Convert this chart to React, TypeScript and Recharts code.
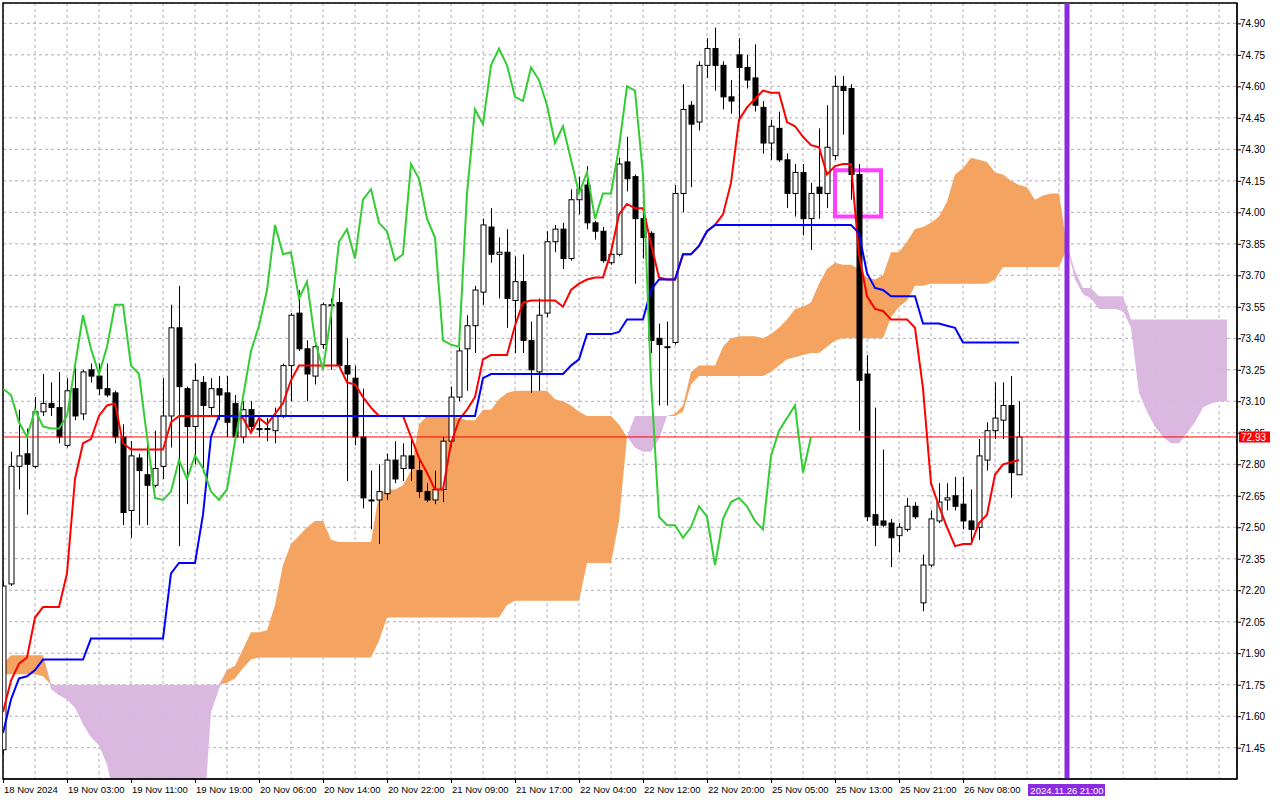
import React from 'react';
import {
  ComposedChart,
  XAxis,
  YAxis,
  CartesianGrid,
  Area,
  Line,
  Bar,
  ReferenceLine,
  ReferenceArea,
} from 'recharts';

// H1 candles, bar index 0..127
const opens = [
  71.44, 72.23, 72.79, 72.85, 72.79, 73.05, 73.09, 73.07, 72.89, 73.16,
  73.04, 73.25, 73.22, 73.16, 73.14, 72.93, 72.58, 72.83, 72.75, 72.70,
  72.79, 73.03, 73.45, 73.16, 72.98, 73.19, 73.07, 73.16, 73.14, 73.09,
  72.93, 73.06, 72.97, 72.97, 72.96, 73.03, 73.27, 73.52, 73.35, 73.22,
  73.37, 73.56, 73.57, 73.27, 73.21, 72.93, 72.63, 72.63, 72.66, 72.82,
  72.78, 72.84, 72.77, 72.67, 72.63, 72.68, 72.91, 73.12, 73.35, 73.46,
  73.62, 73.93, 73.80, 73.81, 73.58, 73.67, 73.39, 73.24, 73.52, 73.86,
  73.92, 73.78, 74.06, 74.13, 73.95, 73.91, 73.76, 73.80, 74.24, 74.17,
  73.97, 73.90, 73.40, 73.36, 73.38, 74.09, 74.51, 74.43, 74.70, 74.78,
  74.70, 74.55, 74.75, 74.69, 74.64, 74.50, 74.33, 74.40, 74.25, 74.09,
  74.19, 73.97, 74.12, 74.09, 74.27, 74.60, 74.59, 74.18, 73.23, 72.56,
  72.53, 72.52, 72.46, 72.49, 72.60, 72.14, 72.32, 72.53, 72.63, 72.65,
  72.61, 72.53, 72.50, 72.82, 72.96, 73.01, 73.08, 72.75,
];
const highs = [
  72.24, 72.86, 73.06, 72.97, 73.12, 73.23, 73.19, 73.24, 73.21, 73.26,
  73.25, 73.28, 73.28, 73.28, 73.15, 72.99, 72.91, 72.85, 72.90, 72.96,
  73.21, 73.56, 73.65, 73.17, 73.28, 73.22, 73.21, 73.22, 73.22, 73.13,
  73.10, 73.10, 73.02, 73.02, 73.07, 73.28, 73.52, 73.63, 73.39, 73.37,
  73.57, 73.59, 73.64, 73.40, 73.27, 73.16, 72.77, 72.80, 72.85, 72.91,
  72.90, 72.92, 72.82, 72.71, 72.77, 72.93, 73.17, 73.37, 73.51, 73.65,
  73.97, 74.02, 73.88, 73.92, 73.79, 73.80, 73.48, 73.59, 73.91, 73.94,
  73.95, 74.11, 74.17, 74.22, 73.96, 73.93, 73.84, 74.26, 74.36, 74.18,
  74.02, 73.91, 73.47, 73.48, 74.13, 74.61, 74.53, 74.72, 74.83, 74.88,
  74.72, 74.63, 74.83, 74.75, 74.80, 74.53, 74.44, 74.48, 74.28, 74.23,
  74.23, 74.14, 74.40, 74.51, 74.65, 74.65, 74.61, 74.23, 73.32, 73.07,
  72.87, 72.54, 72.52, 72.64, 72.62, 72.37, 72.58, 72.71, 72.71, 72.74,
  72.74, 72.68, 72.92, 73.00, 73.19, 73.19, 73.22, 73.10,
];
const lows = [
  71.42, 72.22, 72.68, 72.56, 72.78, 73.03, 73.03, 72.90, 72.88, 73.01,
  73.01, 73.19, 73.13, 73.12, 72.90, 72.51, 72.45, 72.51, 72.51, 72.69,
  72.73, 72.88, 72.41, 72.61, 72.80, 72.76, 73.03, 73.01, 72.93, 72.92,
  72.90, 72.95, 72.93, 72.91, 72.90, 73.02, 73.10, 73.34, 73.10, 73.18,
  73.35, 73.25, 73.26, 72.72, 72.89, 72.59, 72.49, 72.42, 72.63, 72.71,
  72.72, 72.72, 72.64, 72.62, 72.61, 72.62, 72.88, 73.10, 73.15, 73.33,
  73.56, 73.76, 73.59, 73.45, 73.33, 73.33, 73.14, 73.15, 73.50, 73.81,
  73.73, 73.77, 73.99, 73.92, 73.87, 73.76, 73.75, 73.79, 74.10, 73.66,
  73.78, 73.33, 73.08, 73.08, 73.37, 74.00, 74.12, 74.39, 74.64, 74.58,
  74.49, 74.47, 74.43, 74.59, 74.48, 74.28, 74.25, 74.24, 74.02, 73.98,
  73.89, 73.82, 73.97, 74.02, 74.25, 74.37, 74.06, 72.96, 72.53, 72.41,
  72.50, 72.31, 72.38, 72.48, 72.54, 72.10, 72.31, 72.52, 72.58, 72.58,
  72.49, 72.43, 72.44, 72.77, 72.92, 72.92, 72.64, 72.75,
];
const closes = [
  72.22, 72.79, 72.84, 72.80, 73.05, 73.09, 73.07, 72.93, 73.15, 73.03,
  73.24, 73.22, 73.16, 73.13, 72.93, 72.57, 72.84, 72.77, 72.70, 72.78,
  73.03, 73.45, 73.17, 72.98, 73.20, 73.08, 73.16, 73.13, 73.00, 72.93,
  73.06, 72.98, 72.97, 72.97, 73.03, 73.27, 73.51, 73.35, 73.23, 73.36,
  73.56, 73.56, 73.27, 73.23, 72.93, 72.64, 72.63, 72.67, 72.82, 72.73,
  72.84, 72.78, 72.67, 72.63, 72.68, 72.91, 73.12, 73.34, 73.46, 73.63,
  73.94, 73.80, 73.81, 73.59, 73.67, 73.39, 73.25, 73.51, 73.86, 73.92,
  73.78, 74.06, 74.11, 73.95, 73.91, 73.77, 73.80, 74.23, 74.16, 73.97,
  73.88, 73.39, 73.37, 73.36, 74.09, 74.49, 74.42, 74.70, 74.78, 74.70,
  74.55, 74.53, 74.69, 74.63, 74.51, 74.33, 74.41, 74.25, 74.09, 74.19,
  73.97, 74.09, 74.09, 74.31, 74.60, 74.58, 74.18, 73.20, 72.55, 72.51,
  72.51, 72.45, 72.50, 72.60, 72.55, 72.32, 72.54, 72.62, 72.64, 72.60,
  72.53, 72.49, 72.84, 72.96, 73.02, 73.08, 72.76, 72.93,
];

// Ichimoku lines
const tenkan = [
  71.62, 71.77, 71.85, 71.88, 72.07, 72.12, 72.12, 72.12, 72.28, 72.73,
  72.90, 72.92, 73.03, 73.08, 73.09, 72.90, 72.87, 72.87, 72.87, 72.87,
  72.87, 73.00, 73.03, 73.03, 73.03, 73.03, 73.03, 73.03, 73.03, 73.03,
  73.02, 72.95, 73.02, 72.99, 73.04, 73.09, 73.20, 73.27, 73.27, 73.27,
  73.27, 73.27, 73.27, 73.19, 73.18, 73.12, 73.07, 73.03, 73.03, 73.03,
  73.03, 72.93, 72.83, 72.76, 72.68, 72.68, 72.90, 73.01, 73.06, 73.12,
  73.30, 73.32, 73.32, 73.32, 73.46, 73.57, 73.58, 73.58, 73.58, 73.58,
  73.55, 73.63, 73.66, 73.68, 73.69, 73.69, 73.81, 73.99, 74.04, 74.02,
  74.02, 73.85, 73.69, 73.68, 73.68, 73.80, 73.80, 73.84, 73.91, 73.94,
  73.99, 74.14, 74.44, 74.50, 74.54, 74.58, 74.57, 74.57, 74.43, 74.41,
  74.36, 74.32, 74.31, 74.18, 74.22, 74.23, 74.23, 73.80, 73.60, 73.54,
  73.53, 73.49, 73.49, 73.49, 73.45, 73.16, 72.71, 72.60, 72.50, 72.41,
  72.42, 72.42, 72.52, 72.56, 72.75, 72.80, 72.81, 72.82,
];
const kijun = [
  71.52, 71.68, 71.78, 71.79, 71.82, 71.87, 71.87, 71.87, 71.87, 71.87,
  71.87, 71.97, 71.97, 71.97, 71.97, 71.97, 71.97, 71.97, 71.97, 71.97,
  71.97, 72.28, 72.33, 72.33, 72.33, 72.56, 72.93, 73.03, 73.03, 73.03,
  73.03, 73.03, 73.03, 73.03, 73.03, 73.03, 73.03, 73.03, 73.03, 73.03,
  73.03, 73.03, 73.03, 73.03, 73.03, 73.03, 73.03, 73.03, 73.03, 73.03,
  73.03, 73.03, 73.03, 73.03, 73.03, 73.03, 73.03, 73.03, 73.03, 73.03,
  73.21, 73.23, 73.23, 73.23, 73.23, 73.23, 73.23, 73.23, 73.23, 73.23,
  73.23, 73.27, 73.30, 73.42, 73.42, 73.42, 73.42, 73.43, 73.49, 73.49,
  73.49, 73.63, 73.68, 73.68, 73.68, 73.80, 73.80, 73.84, 73.91, 73.94,
  73.94, 73.94, 73.94, 73.94, 73.94, 73.94, 73.94, 73.94, 73.94, 73.94,
  73.94, 73.94, 73.94, 73.94, 73.94, 73.94, 73.94, 73.90, 73.71, 73.64,
  73.63, 73.60, 73.60, 73.60, 73.60, 73.47, 73.47, 73.47, 73.46, 73.45,
  73.38, 73.38, 73.38, 73.38, 73.38, 73.38, 73.38, 73.38,
];
// cloud spans, bar index 0..153 (26 bars past the last candle)
const spanA = [
  71.85, 71.89, 71.89, 71.89, 71.89, 71.89, 71.73, 71.70, 71.68, 71.64,
  71.56, 71.50, 71.46, 71.37, 71.20, 71.20, 71.20, 71.20, 71.20, 71.20,
  71.20, 71.20, 71.20, 71.20, 71.20, 71.06, 71.62, 71.73, 71.82, 71.84,
  71.92, 72.00, 72.00, 72.01, 72.13, 72.32, 72.42, 72.46, 72.50, 72.53,
  72.53, 72.44, 72.43, 72.43, 72.43, 72.43, 72.43, 72.66, 72.68, 72.68,
  72.70, 72.77, 72.99, 73.03, 73.03, 73.03, 73.03, 73.02, 73.01, 73.01,
  73.06, 73.06, 73.11, 73.14, 73.15, 73.15, 73.15, 73.15, 73.15, 73.11,
  73.10, 73.08, 73.05, 73.03, 73.03, 73.03, 73.03, 72.99, 72.93, 72.88,
  72.86, 72.86, 72.92, 73.03, 73.04, 73.08, 73.24, 73.27, 73.27, 73.27,
  73.36, 73.40, 73.41, 73.41, 73.41, 73.40, 73.42, 73.45, 73.49, 73.54,
  73.55, 73.57, 73.66, 73.73, 73.76, 73.75, 73.75, 73.73, 73.69, 73.68,
  73.70, 73.81, 73.81, 73.86, 73.92, 73.93, 73.95, 73.98, 74.05, 74.18,
  74.21, 74.26, 74.25, 74.24, 74.19, 74.18, 74.15, 74.13, 74.12, 74.06,
  74.08, 74.09, 74.09, 73.84, 73.68, 73.61, 73.59, 73.54, 73.54, 73.54,
  73.53, 73.45, 73.14, 73.05, 72.98, 72.93, 72.90, 72.90, 72.95, 73.00,
  73.07, 73.09, 73.10, 73.10,
];
const spanB = [
  71.80, 71.80, 71.80, 71.80, 71.80, 71.79, 71.75, 71.75, 71.75, 71.75,
  71.75, 71.75, 71.75, 71.75, 71.75, 71.75, 71.75, 71.75, 71.75, 71.75,
  71.75, 71.75, 71.75, 71.75, 71.75, 71.75, 71.75, 71.75, 71.76, 71.78,
  71.83, 71.87, 71.88, 71.88, 71.88, 71.88, 71.88, 71.88, 71.88, 71.88,
  71.88, 71.88, 71.88, 71.88, 71.88, 71.88, 71.88, 71.96, 72.07, 72.07,
  72.07, 72.07, 72.07, 72.07, 72.07, 72.07, 72.07, 72.07, 72.07, 72.07,
  72.07, 72.07, 72.07, 72.13, 72.15, 72.15, 72.15, 72.15, 72.15, 72.15,
  72.15, 72.15, 72.15, 72.33, 72.33, 72.33, 72.33, 72.53, 72.93, 73.03,
  73.03, 73.03, 73.03, 73.03, 73.03, 73.05, 73.18, 73.22, 73.22, 73.22,
  73.22, 73.22, 73.22, 73.22, 73.22, 73.22, 73.24, 73.27, 73.30, 73.31,
  73.32, 73.33, 73.33, 73.36, 73.39, 73.40, 73.40, 73.40, 73.40, 73.40,
  73.40, 73.50, 73.55, 73.58, 73.65, 73.65, 73.66, 73.66, 73.66, 73.66,
  73.66, 73.66, 73.66, 73.66, 73.68, 73.74, 73.74, 73.74, 73.74, 73.74,
  73.74, 73.74, 73.74, 73.83, 73.72, 73.64, 73.64, 73.60, 73.60, 73.60,
  73.60, 73.49, 73.49, 73.49, 73.49, 73.49, 73.49, 73.49, 73.49, 73.49,
  73.49, 73.49, 73.49, 73.49,
];

const timeTickIdx = [0, 8, 16, 24, 32, 40, 48, 56, 64, 72, 80, 88, 96, 104, 112, 120];
const timeTickLabels = [
  '18 Nov 2024', '19 Nov 03:00', '19 Nov 11:00', '19 Nov 19:00', '20 Nov 06:00',
  '20 Nov 14:00', '20 Nov 22:00', '21 Nov 09:00', '21 Nov 17:00', '22 Nov 04:00',
  '22 Nov 12:00', '22 Nov 20:00', '25 Nov 05:00', '25 Nov 13:00', '25 Nov 21:00',
  '26 Nov 08:00',
];
const gridIdx = [
  0, 4, 8, 12, 16, 20, 24, 28, 32, 36, 40, 44, 48, 52, 56, 60, 64, 68, 72, 76,
  80, 84, 88, 92, 96, 100, 104, 108, 112, 116, 120, 124, 128, 132, 136, 140, 144, 148, 152,
];
const priceTicks = [
  71.45, 71.6, 71.75, 71.9, 72.05, 72.2, 72.35, 72.5, 72.65, 72.8, 72.95, 73.1,
  73.25, 73.4, 73.55, 73.7, 73.85, 74.0, 74.15, 74.3, 74.45, 74.6, 74.75, 74.9,
];

const bidPrice = 72.93;
const cursorIdx = 133;
const cursorText = '2024.11.26 21:00';
const boxIdx = [104, 109.75];
const boxPrice = [73.98, 74.2];
const CHIKOU_SHIFT = 26;

const X_DOMAIN = [0, 154.25];
const Y_DOMAIN = [71.301, 74.997];
const CHART_W = 1280;
const CHART_H = 800;
const MARGIN = { top: 3, right: 0, bottom: 0, left: 3 };
const X_AXIS_H = 21;
const PLOT_H = CHART_H - MARGIN.top - X_AXIS_H;
const PX_PER_PRICE = PLOT_H / (Y_DOMAIN[1] - Y_DOMAIN[0]);
const BID_BOX_H = 11;

const FONT = "'Liberation Sans', Arial, sans-serif";

const rows = spanA.map((a, i) => {
  const b = spanB[i];
  const top = Math.max(a, b);
  return {
    i,
    o: opens[i],
    h: highs[i],
    l: lows[i],
    c: closes[i],
    tenkan: tenkan[i],
    kijun: kijun[i],
    chikou: closes[i + CHIKOU_SHIFT],
    kumoUp: [b, top],
    kumoDown: [a, top],
  };
});

function Candle(props: any) {
  const { x, y, width, height, payload } = props;
  if (payload == null || payload.h == null || !height) return <g />;
  const cx = Math.round(x + width / 2) + 0.5;
  const k = height / (payload.h - payload.l);
  const py = (v: number) => y + (payload.h - v) * k;
  const top = py(Math.max(payload.o, payload.c));
  const bot = py(Math.min(payload.o, payload.c));
  const up = payload.c >= payload.o;
  return (
    <g>
      <line x1={cx} x2={cx} y1={y} y2={y + height} stroke="#000" strokeWidth={1} />
      <rect
        x={cx - 2.5}
        y={top}
        width={5}
        height={Math.max(bot - top, 1)}
        fill={up ? '#fff' : '#000'}
        stroke="#000"
        strokeWidth={1}
      />
    </g>
  );
}

function TimeTick(props: any) {
  const { x, y, payload } = props;
  const k = timeTickIdx.indexOf(payload.value);
  if (k < 0) return <g />;
  return (
    <g>
      <line x1={x + 0.5} x2={x + 0.5} y1={y} y2={y + 4} stroke="#000" />
      <text x={x + 1} y={y + 14} fontSize={9.5} fontFamily={FONT} fill="#000">
        {timeTickLabels[k]}
      </text>
    </g>
  );
}

function PriceTick(props: any) {
  const { x, y, payload } = props;
  const v = Number(payload.value);
  // the bid price box sits over the neighbouring tick label, as in the terminal
  const gap = (v - bidPrice) * PX_PER_PRICE;
  const hidden = Math.abs(gap) < BID_BOX_H + 2;
  const clipId = `tick-clip-${v.toFixed(2)}`;
  const boxTop = y + gap - BID_BOX_H / 2;
  return (
    <g>
      {hidden && (
        <defs>
          <clipPath id={clipId}>
            <rect x={x} y={y - 20} width={50} height={Math.max(boxTop - (y - 20), 0)} />
          </clipPath>
        </defs>
      )}
      <line x1={x} x2={x + 4} y1={y + 0.5} y2={y + 0.5} stroke="#000" />
      <text
        x={x + 3}
        y={y + 4}
        fontSize={10}
        fontFamily={FONT}
        fill="#000"
        clipPath={hidden ? `url(#${clipId})` : undefined}
      >
        {v.toFixed(2)}
      </text>
    </g>
  );
}

function BidLabel(props: any) {
  const { viewBox } = props;
  if (!viewBox) return null;
  const x = viewBox.x + viewBox.width + 2;
  const y = viewBox.y;
  return (
    <g>
      <rect x={x} y={y - BID_BOX_H / 2} width={31} height={BID_BOX_H} fill="#FF0000" />
      <text x={x + 2} y={y + 4} fontSize={10} fontFamily={FONT} fill="#fff">
        {bidPrice.toFixed(2)}
      </text>
    </g>
  );
}

function CursorLabel(props: any) {
  const { viewBox } = props;
  if (!viewBox) return null;
  const x = viewBox.x;
  const bottom = viewBox.y + viewBox.height;
  return (
    <g>
      <rect x={x - 39} y={bottom + 5} width={77} height={12} fill="#8A2BE2" />
      <text x={x} y={bottom + 14.5} textAnchor="middle" fontSize={9.5} fontFamily={FONT} fill="#fff">
        {cursorText}
      </text>
    </g>
  );
}

export default function App() {
  return (
    <div style={{ position: 'absolute', left: 0, top: 0, width: CHART_W, height: CHART_H, background: '#fff' }}>
      <ComposedChart width={CHART_W} height={CHART_H} data={rows} margin={MARGIN}>
        <CartesianGrid stroke="#B8A8BC" strokeDasharray="3 3" />
        <XAxis
          dataKey="i"
          type="number"
          domain={X_DOMAIN}
          ticks={gridIdx}
          interval={0}
          allowDataOverflow
          height={X_AXIS_H}
          axisLine={{ stroke: '#000' }}
          tickLine={false}
          tickSize={0}
          tickMargin={0}
          tick={<TimeTick />}
        />
        <YAxis
          orientation="right"
          type="number"
          domain={Y_DOMAIN}
          ticks={priceTicks}
          interval={0}
          allowDataOverflow
          width={43}
          axisLine={{ stroke: '#000' }}
          tickLine={false}
          tickSize={0}
          tickMargin={0}
          tick={<PriceTick />}
        />
        <Area
          dataKey="kumoUp"
          type="linear"
          stroke="none"
          fill="#F4A460"
          fillOpacity={1}
          isAnimationActive={false}
        />
        <Area
          dataKey="kumoDown"
          type="linear"
          stroke="none"
          fill="#D8B4DE"
          fillOpacity={0.95}
          isAnimationActive={false}
        />
        <ReferenceLine y={bidPrice} stroke="#FF0000" strokeWidth={1} label={<BidLabel />} />
        <ReferenceLine x={cursorIdx} stroke="#8A2BE2" strokeWidth={5} label={<CursorLabel />} />
        <Bar
          dataKey={(d: any) => (d.h == null ? null : [d.l, d.h])}
          barSize={6}
          shape={<Candle />}
          isAnimationActive={false}
        />
        <Line dataKey="tenkan" type="linear" stroke="#FF0000" strokeWidth={2} dot={false} isAnimationActive={false} />
        <Line dataKey="kijun" type="linear" stroke="#0000FF" strokeWidth={2} dot={false} isAnimationActive={false} />
        <Line dataKey="chikou" type="linear" stroke="#32CD32" strokeWidth={2} dot={false} isAnimationActive={false} />
        <ReferenceArea
          x1={boxIdx[0]}
          x2={boxIdx[1]}
          y1={boxPrice[0]}
          y2={boxPrice[1]}
          fill="none"
          fillOpacity={0}
          stroke="#FF40FF"
          strokeWidth={4}
        />
        {/* chart frame */}
        <ReferenceArea
          x1={X_DOMAIN[0]}
          x2={X_DOMAIN[1]}
          y1={Y_DOMAIN[0]}
          y2={Y_DOMAIN[1]}
          fill="none"
          fillOpacity={0}
          stroke="#000"
          strokeWidth={1.5}
        />
      </ComposedChart>
    </div>
  );
}
